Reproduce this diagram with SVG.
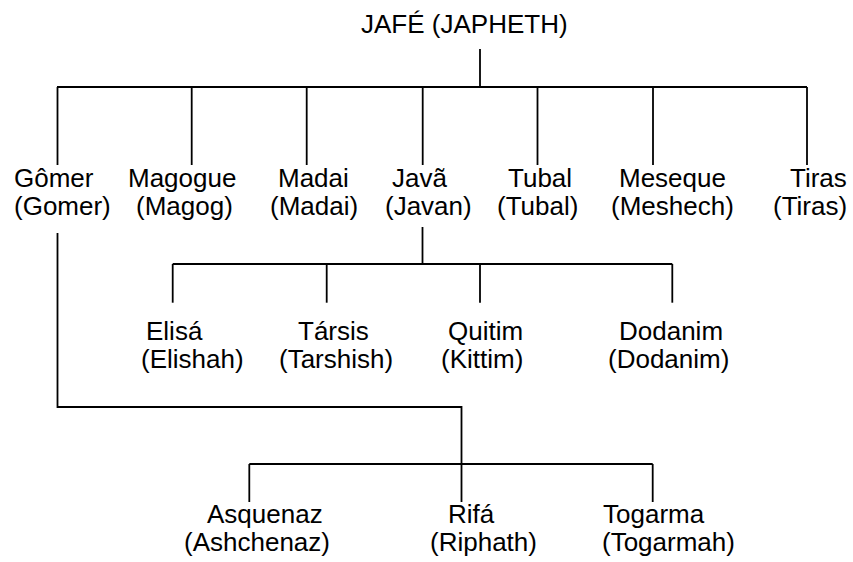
<svg xmlns="http://www.w3.org/2000/svg" width="853" height="562" viewBox="0 0 853 562">
<style>
text{font-family:"Liberation Sans",Arial,sans-serif;font-size:26px;fill:#000}
.c line,.c polyline{stroke:#000;stroke-width:1.8;fill:none}
</style>
<rect width="853" height="562" fill="#fff"/>
<g class="c" id="connectors">
<line x1="480" y1="49" x2="480" y2="87"/>
<line x1="57" y1="87" x2="807" y2="87"/>
<line x1="57.5" y1="87" x2="57.5" y2="165"/>
<line x1="191.7" y1="87" x2="191.7" y2="165"/>
<line x1="306.7" y1="87" x2="306.7" y2="165"/>
<line x1="422.7" y1="87" x2="422.7" y2="165"/>
<line x1="537.5" y1="87" x2="537.5" y2="165"/>
<line x1="653" y1="87" x2="653" y2="165"/>
<line x1="807" y1="87" x2="807" y2="165"/>
<line x1="422.5" y1="227" x2="422.5" y2="264"/>
<line x1="172.7" y1="264" x2="672.3" y2="264"/>
<line x1="172.7" y1="264" x2="172.7" y2="302.7"/>
<line x1="326.7" y1="264" x2="326.7" y2="302.7"/>
<line x1="480" y1="264" x2="480" y2="302.7"/>
<line x1="672.3" y1="264" x2="672.3" y2="302.7"/>
<polyline points="57.5,233 57.5,407 461.5,407 461.5,502"/>
<line x1="249.3" y1="464" x2="652.7" y2="464"/>
<line x1="249.3" y1="464" x2="249.3" y2="502"/>
<line x1="652.7" y1="464" x2="652.7" y2="502"/>
</g>
<g id="japheth"><text x="361" y="33">JAFÉ (JAPHETH)</text></g>
<g id="gomer"><text x="14" y="187">Gômer</text><text x="14" y="215">(Gomer)</text></g>
<g id="magog"><text x="128" y="187">Magogue</text><text x="136" y="215">(Magog)</text></g>
<g id="madai"><text x="278" y="187">Madai</text><text x="270" y="215">(Madai)</text></g>
<g id="javan"><text x="392" y="187">Javã</text><text x="385" y="215">(Javan)</text></g>
<g id="tubal"><text x="508" y="187">Tubal</text><text x="497" y="215">(Tubal)</text></g>
<g id="meshech"><text x="619" y="187">Meseque</text><text x="611" y="215">(Meshech)</text></g>
<g id="tiras"><text x="790" y="187">Tiras</text><text x="773" y="215">(Tiras)</text></g>
<g id="elishah"><text x="146" y="340">Elisá</text><text x="141" y="368">(Elishah)</text></g>
<g id="tarshish"><text x="298" y="340">Társis</text><text x="279" y="368">(Tarshish)</text></g>
<g id="kittim"><text x="448" y="340">Quitim</text><text x="441" y="368">(Kittim)</text></g>
<g id="dodanim"><text x="619" y="340">Dodanim</text><text x="608" y="368">(Dodanim)</text></g>
<g id="ashchenaz"><text x="207" y="523">Asquenaz</text><text x="184" y="551">(Ashchenaz)</text></g>
<g id="riphath"><text x="448" y="523">Rifá</text><text x="430" y="551">(Riphath)</text></g>
<g id="togarmah"><text x="603" y="523">Togarma</text><text x="602" y="551">(Togarmah)</text></g>
</svg>
